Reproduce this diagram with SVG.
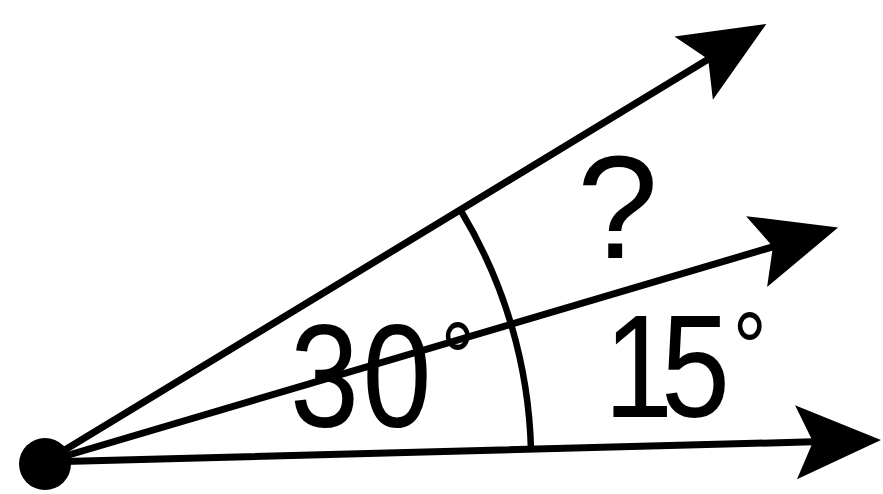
<svg xmlns="http://www.w3.org/2000/svg" width="883" height="494" viewBox="0 0 883 494">
<style>
.ray{stroke:#000;stroke-width:7;fill:none;stroke-linecap:round}
.arc{stroke:#000;stroke-width:6.5;fill:none}
.lbl{font-family:"Liberation Sans",Arial,sans-serif;font-size:146px;fill:#000}
.deg{font-size:100px}
</style>
<defs>
<marker id="ah" markerUnits="userSpaceOnUse" markerWidth="100" markerHeight="90" viewBox="-90 -45 100 90" refX="-68" refY="0" orient="auto">
<path d="M0,0 L-85,-37 L-68,0 L-85,37 Z" fill="#000"/>
</marker>
</defs>
<rect width="883" height="494" fill="#fff"/>
<g id="connectors">
<line class="ray" x1="45" y1="462" x2="708.2" y2="59.3" marker-end="url(#ah)"/>
<line class="ray" x1="45" y1="462" x2="772.9" y2="246.8" marker-end="url(#ah)"/>
<line class="ray" x1="45" y1="462" x2="813" y2="441.8" marker-end="url(#ah)"/>
<path class="arc" d="M461,211 A486,486 0 0 1 531,450"/>
</g>
<g id="vertex">
<circle cx="45" cy="464" r="26" fill="#000"/>
</g>
<g id="label-30">
<text class="lbl" transform="translate(290,427) scale(0.85,1)">3<tspan dx="4">0</tspan><tspan class="deg" dx="11" dy="-35">°</tspan></text>
</g>
<g id="label-15">
<text class="lbl" transform="translate(604,417) scale(0.85,1)">1<tspan dx="-14">5</tspan><tspan class="deg" dx="3" dy="-35">°</tspan></text>
</g>
<g id="label-q">
<text class="lbl" x="577" y="258" font-size="156">?</text>
</g>
</svg>
